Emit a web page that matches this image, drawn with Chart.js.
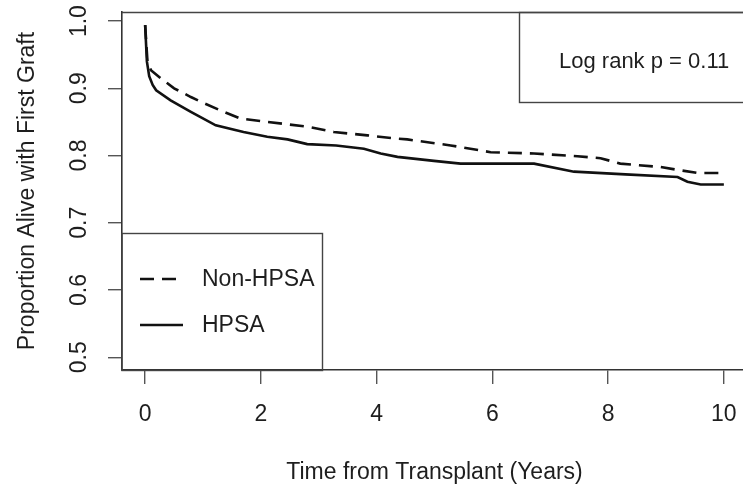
<!DOCTYPE html>
<html>
<head>
<meta charset="utf-8">
<script src="https://cdn.jsdelivr.net/npm/chart.js@4.4.1/dist/chart.umd.min.js"></script>
<style>
html,body{margin:0;padding:0;background:#fff;overflow:hidden;}
#wrap{width:743px;height:486px;overflow:hidden;position:relative;}
canvas{display:block;}
</style>
</head>
<body>
<div id="wrap"><canvas id="c" width="748" height="486"></canvas></div>
<script>
// ---- data ----
const hpsaTime = [0, 0.03, 0.07, 0.13, 0.19, 0.44, 0.79, 1.22, 1.70, 2.11, 2.46, 2.80, 3.30, 3.78, 4.07, 4.36, 4.99, 5.45, 6.72, 7.41, 8.30, 9.20, 9.37, 9.60, 10.0];
const hpsaSurv = [0.994, 0.940, 0.918, 0.905, 0.897, 0.882, 0.865, 0.845, 0.835, 0.828, 0.824, 0.817, 0.815, 0.810, 0.803, 0.798, 0.792, 0.788, 0.788, 0.776, 0.772, 0.768, 0.761, 0.757, 0.757];
const nonTime = [0, 0.04, 0.10, 0.27, 0.50, 0.79, 0.96, 1.36, 1.65, 2.11, 2.80, 3.26, 3.84, 4.36, 4.53, 5.28, 5.97, 6.72, 7.47, 7.87, 8.21, 8.90, 9.25, 9.55, 10.0];
const nonSurv = [0.994, 0.940, 0.927, 0.915, 0.900, 0.887, 0.880, 0.865, 0.855, 0.850, 0.843, 0.835, 0.830, 0.825, 0.824, 0.815, 0.805, 0.803, 0.799, 0.796, 0.788, 0.783, 0.778, 0.774, 0.774];
const seriesNames = ['Non-HPSA', 'HPSA'];
const xTickValues = [0, 2, 4, 6, 8, 10];
const yTickValues = [0.5, 0.6, 0.7, 0.8, 0.9, 1.0];
const annotationText = 'Log rank p = 0.11';
const xTitle = 'Time from Transplant (Years)';
const yTitle = 'Proportion Alive with First Graft';

const FONT = '"Liberation Sans", Arial, Helvetica, sans-serif';
const TXT = '#1e1e1e';
const FRAME = '#444';

const toPts = (t, s) => t.map((v, i) => ({x: v, y: s[i]}));

const boxesPlugin = {
  id: 'boxes',
  afterDraw(chart) {
    const ctx = chart.ctx;
    const a = chart.chartArea;
    ctx.save();
    ctx.strokeStyle = FRAME;
    ctx.lineWidth = 1.4;
    // top frame line
    ctx.beginPath();
    ctx.moveTo(a.left, a.top + 0.5);
    ctx.lineTo(a.right + 5, a.top + 0.5);
    ctx.stroke();
    // legend box
    const lx = a.left, ly = 233, lr = 322.5, lb = a.bottom;
    ctx.fillStyle = '#fff';
    ctx.fillRect(lx + 1, ly, lr - lx, lb - ly - 1);
    ctx.strokeRect(lx, ly + 0.5, lr - lx, lb - ly);
    // annotation box
    const bx = 519, by = a.top, bb = 102;
    ctx.strokeRect(bx + 0.5, by + 0.5, a.right + 10 - bx, bb - by);
    // legend entries
    ctx.strokeStyle = '#111';
    ctx.lineWidth = 2.6;
    const ds = chart.data.datasets;
    const rows = [279, 325];
    ds.forEach((d, i) => {
      ctx.setLineDash(d.borderDash || []);
      ctx.beginPath();
      ctx.moveTo(140, rows[i]);
      ctx.lineTo(i === 0 ? 178 : 183, rows[i]);
      ctx.stroke();
    });
    ctx.setLineDash([]);
    ctx.fillStyle = TXT;
    ctx.font = '23px ' + FONT;
    ctx.textBaseline = 'middle';
    ctx.textAlign = 'left';
    ds.forEach((d, i) => ctx.fillText(d.label, 202, rows[i] + 1));
    ctx.font = '22px ' + FONT;
    ctx.fillText(annotationText, 559, 62);
    ctx.restore();
  }
};

new Chart(document.getElementById('c'), {
  type: 'line',
  data: {
    datasets: [
      {label: seriesNames[0], data: toPts(nonTime, nonSurv), borderColor: '#111', borderWidth: 2.6, borderDash: [14, 8], pointRadius: 0, fill: false, tension: 0},
      {label: seriesNames[1], data: toPts(hpsaTime, hpsaSurv), borderColor: '#111', borderWidth: 2.6, pointRadius: 0, fill: false, tension: 0}
    ]
  },
  options: {
    responsive: false,
    animation: false,
    events: [],
    layout: {padding: {top: 12, right: 1, left: 0, bottom: 0}},
    plugins: {legend: {display: false}, tooltip: {enabled: false}},
    scales: {
      x: {
        type: 'linear', min: -0.4, max: 10.4,
        afterFit(s) { s.height = 116; s.paddingLeft = 0; s.paddingRight = 0; },
        afterBuildTicks(s) { s.ticks = xTickValues.map(v => ({value: v})); },
        grid: {drawOnChartArea: false, drawTicks: true, tickLength: 14, color: '#555', lineWidth: 1.4},
        border: {display: true, color: '#333', width: 1.6},
        ticks: {color: TXT, font: {family: FONT, size: 23}, padding: 17, maxRotation: 0, callback: v => String(v)},
        title: {display: true, text: xTitle, color: TXT, font: {family: FONT, size: 23}, padding: {top: 0, bottom: 0}}
      },
      y: {
        type: 'linear', min: 0.481, max: 1.0135,
        afterFit(s) { s.width = 122; s.paddingTop = 0; s.paddingBottom = 0; },
        afterBuildTicks(s) { s.ticks = yTickValues.map(v => ({value: v})); },
        grid: {drawOnChartArea: false, drawTicks: true, tickLength: 14, color: '#555', lineWidth: 1.4},
        border: {display: true, color: '#333', width: 1.6},
        ticks: {color: TXT, font: {family: FONT, size: 23}, padding: 12, minRotation: 90, maxRotation: 90, crossAlign: 'center', callback: v => v.toFixed(1)},
        title: {display: true, text: yTitle, color: TXT, font: {family: FONT, size: 23}, padding: {top: 14, bottom: 0}}
      }
    }
  },
  plugins: [boxesPlugin]
});
</script>
</body>
</html>
